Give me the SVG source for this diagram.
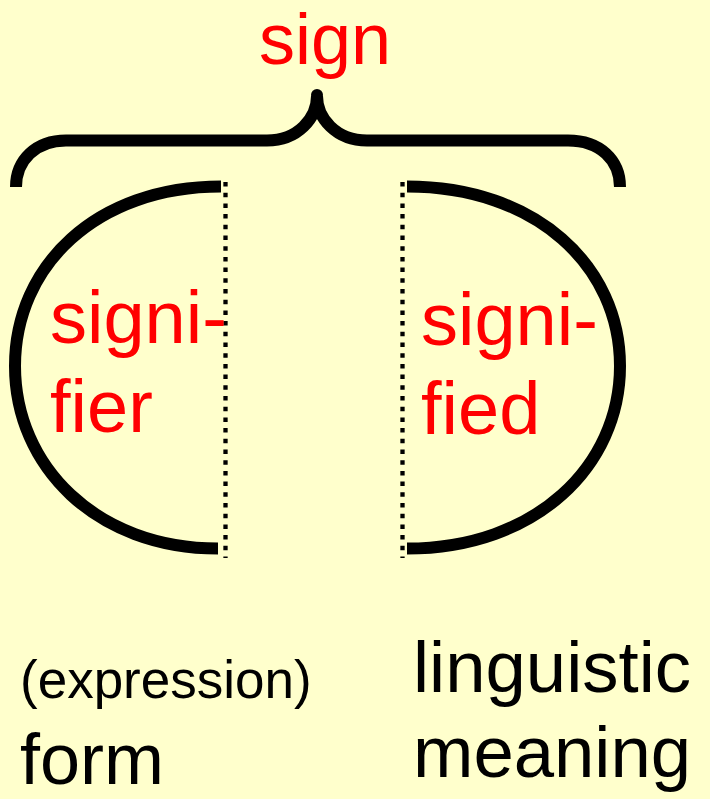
<svg xmlns="http://www.w3.org/2000/svg" width="710" height="799" viewBox="0 0 710 799">
<style>
.red{fill:#FF0000;font-family:"Liberation Sans",Arial,sans-serif;}
.blk{fill:#000000;font-family:"Liberation Sans",Arial,sans-serif;}
.thick{fill:none;stroke:#000;stroke-width:12;}
.dot{fill:none;stroke:#000;stroke-width:4.3;stroke-dasharray:4.5,6.2;}
</style>
<rect x="0" y="0" width="710" height="799" fill="#FFFFCC"/>
<g id="sign">
<path class="thick" d="M16,187 C16,160 36,140.5 66,140.5 L267,140.5 C298,140.5 317,118 317,96 C317,118 336,140.5 367,140.5 L568,140.5 C600,140.5 620,160 620,187"/>
<circle cx="317" cy="95" r="6" fill="#000"/>
<text class="red" x="325" y="64" font-size="72" text-anchor="middle">sign</text>
</g>
<g id="signifier">
<path class="thick" d="M221,186.5 C96,186.5 15,266 15,366 C15,466 96,548.5 218,548.5"/>
<line class="dot" x1="225.5" y1="182" x2="225.5" y2="558"/>
<text class="red" x="50" y="343" font-size="74">signi-</text>
<text class="red" x="50" y="432" font-size="74">fier</text>
</g>
<g id="signified">
<path class="thick" d="M407,186.5 C536,186.5 620,266 620,366 C620,466 536,548.5 407,548.5"/>
<line class="dot" x1="402.5" y1="182" x2="402.5" y2="558"/>
<text class="red" x="421" y="345" font-size="74">signi-</text>
<text class="red" x="421" y="434" font-size="74">fied</text>
</g>
<g id="form-label">
<text class="blk" x="20" y="698" font-size="53">(expression)</text>
<text class="blk" x="20" y="784" font-size="72">form</text>
</g>
<g id="meaning-label">
<text class="blk" x="413" y="692" font-size="72.5">linguistic</text>
<text class="blk" x="413" y="777" font-size="72.5">meaning</text>
</g>
<g id="connectors"></g>
</svg>
